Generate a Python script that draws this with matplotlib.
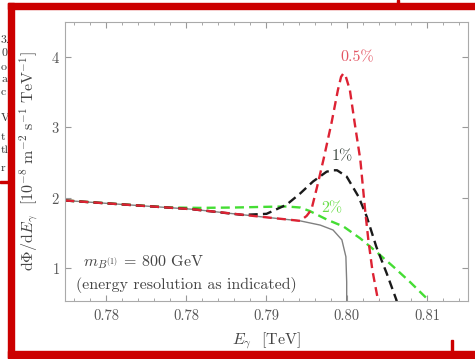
import matplotlib
matplotlib.use('Agg')
import matplotlib.pyplot as plt
from matplotlib.patches import Rectangle

plt.rcParams['font.family'] = 'cmr10'
plt.rcParams['mathtext.fontset'] = 'cm'
plt.rcParams['axes.formatter.use_mathtext'] = True

# spectrum without smearing (solid)
x_true = [0.7649, 0.7808, 0.7892, 0.7942, 0.7967, 0.7983, 0.7994, 0.7999, 0.8000, 0.8000]
y_true = [1.96, 1.835, 1.73, 1.67, 1.61, 1.54, 1.40, 1.16, 0.80, 0.40]

# 0.5% energy resolution
x_05 = [0.7649, 0.7808, 0.7892, 0.7942, 0.7950, 0.7956, 0.7963, 0.7971, 0.7981, 0.7989,
        0.7993, 0.7996, 0.7999, 0.8004, 0.8010, 0.8017, 0.8023, 0.8027, 0.8032, 0.8039, 0.8040]
y_05 = [1.96, 1.835, 1.73, 1.67, 1.74, 1.83, 2.15, 2.54, 3.06, 3.53,
        3.72, 3.77, 3.72, 3.53, 3.06, 2.54, 1.82, 1.40, 0.97, 0.545, 0.50]

# 1% energy resolution
x_1 = [0.7649, 0.7808, 0.7870, 0.7900, 0.7925, 0.7942, 0.7958, 0.7975, 0.7983, 0.7988,
       0.8000, 0.8015, 0.8025, 0.8037, 0.8050, 0.8062, 0.8063]
y_1 = [1.96, 1.835, 1.755, 1.77, 1.90, 2.06, 2.23, 2.37, 2.39, 2.39,
       2.30, 2.01, 1.73, 1.30, 0.92, 0.545, 0.50]

# 2% energy resolution
x_2 = [0.7649, 0.7780, 0.7817, 0.7859, 0.7900, 0.7925, 0.7942, 0.7954, 0.7975, 0.7996,
       0.8017, 0.8037, 0.8058, 0.8079, 0.8100, 0.8103]
y_2 = [1.96, 1.86, 1.855, 1.86, 1.87, 1.875, 1.86, 1.81, 1.69, 1.59,
       1.42, 1.23, 1.02, 0.80, 0.565, 0.52]

xticks = [0.77, 0.78, 0.79, 0.80, 0.81]
xticklabels = ['0.78', '0.78', '0.79', '0.80', '0.81']
yticks = [1, 2, 3, 4]

# bits of the page text left of the frame
page_bits = ['3.', '0', 'o', 'a', 'c', 'VI', 't', 'tl', 'r']
page_rows = [40, 53, 67, 79, 92, 118, 137, 150, 168]

fig = plt.figure(figsize=(4.75, 3.59), dpi=100)
ax = fig.add_axes([0.1368, 0.1616, 0.8485, 0.7771])

ax.plot(x_true, y_true, color='#808080', lw=1.0)
ax.plot(x_2, y_2, color='#44dd33', lw=1.7, dashes=(3.8, 2.2))
ax.plot(x_1, y_1, color='#1a1a1a', lw=1.7, dashes=(3.8, 2.2))
ax.plot(x_05, y_05, color='#dd2233', lw=1.7, dashes=(3.8, 2.2))

ax.text(0.8013, 3.99, '0.5%', color='#e35563', fontsize=11.5, ha='center', va='center')
ax.text(0.7995, 2.58, '1%', color='#3b463f', fontsize=11.5, ha='center', va='center')
ax.text(0.7982, 1.85, '2%', color='#66dd44', fontsize=11.5, ha='center', va='center')

ax.text(0.7671, 1.085, r'$m_{B^{(1)}}$ = 800 GeV', color='#444444', fontsize=11.5, va='center')
ax.text(0.7662, 0.76, '(energy resolution as indicated)', color='#444444', fontsize=11.5, va='center')

ax.set_xlim(0.76487, 0.81513)
ax.set_ylim(0.53, 4.50)
ax.set_xticks(xticks)
ax.set_xticklabels(xticklabels)
ax.set_xticks([0.766 + 0.002 * i for i in range(25)], minor=True)
ax.set_yticks(yticks)
ax.tick_params(which='both', direction='in', top=True, right=True, colors='#999999',
               labelcolor='#555555', labelsize=10.5)
ax.tick_params(which='major', length=4)
ax.tick_params(which='minor', length=2.5)
ax.tick_params(axis='x', pad=6)
for s in ax.spines.values():
    s.set_color('#aaaaaa')

ax.set_xlabel(r'$E_\gamma$  [TeV]', color='#444444', fontsize=11.5, labelpad=5)
ax.set_ylabel(r'$\mathrm{d}\Phi/\mathrm{d}E_\gamma$  $[10^{-8}\ \mathrm{m}^{-2}\ \mathrm{s}^{-1}\ \mathrm{TeV}^{-1}]$',
              color='#444444', fontsize=11.5, labelpad=7)

W, H = 475.0, 359.0
for t, r in zip(page_bits, page_rows):
    fig.text(1 / W, 1 - r / H, t, ha='left', va='center', fontsize=8.5, color='#333333')

# red frame of the screenshot
red = '#cc0000'
for (x0, y0, w, h) in [(8, 351, 467, 7), (8, 3, 6, 355), (8, 3, 467, 6),
                       (397, 0, 2, 4), (451, 340, 2, 12), (0, 181, 8, 2)]:
    fig.patches.append(Rectangle((x0 / W, (H - y0 - h) / H), w / W, h / H,
                                 transform=fig.transFigure, color=red, zorder=10))

fig.savefig('out.png', dpi=100)
